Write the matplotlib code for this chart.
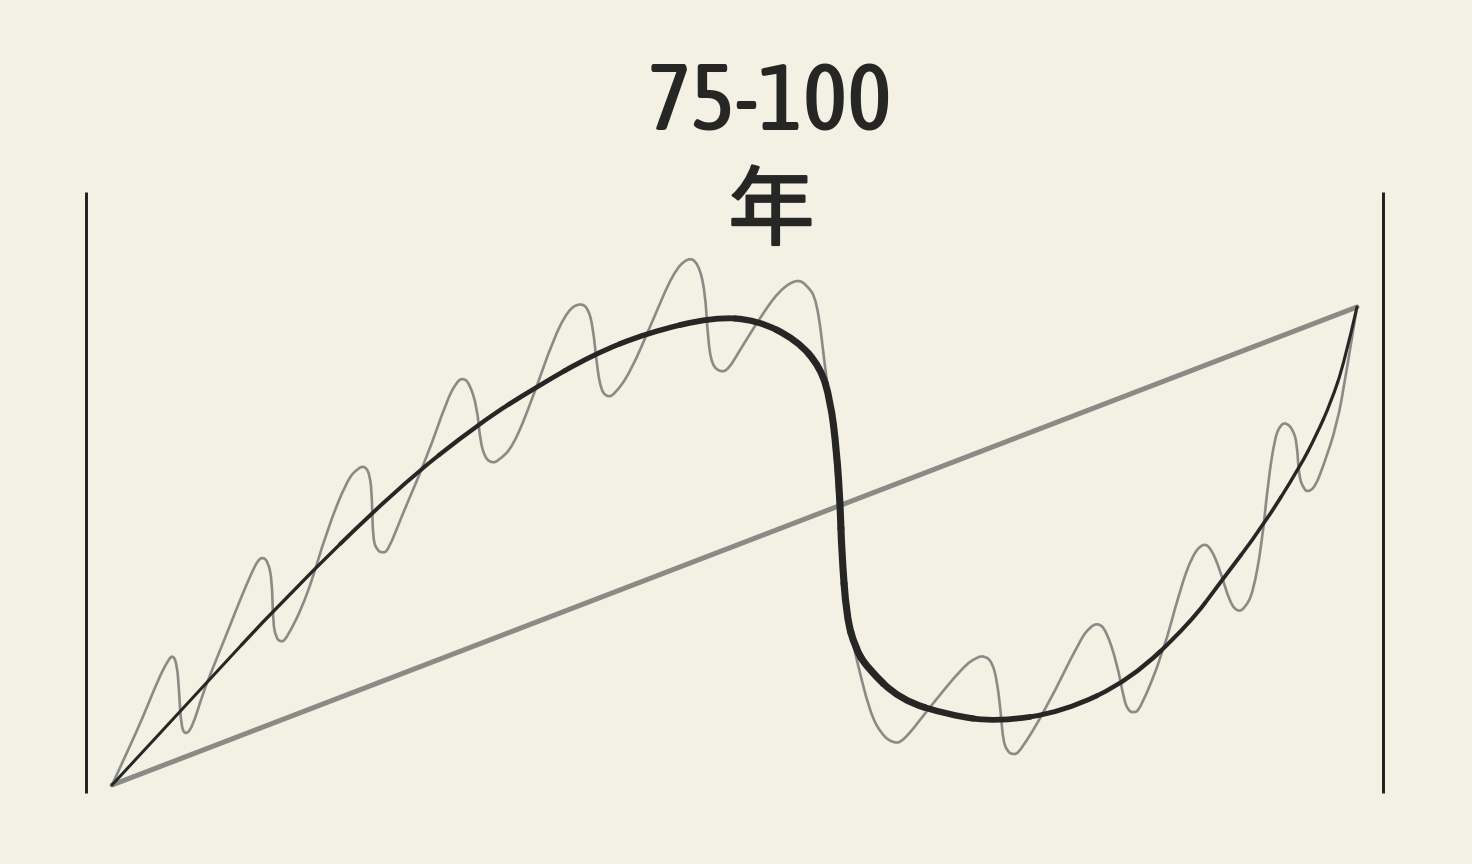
import numpy as np
import matplotlib
matplotlib.use("Agg")
import matplotlib.pyplot as plt
from matplotlib import font_manager, patheffects
from matplotlib.path import Path
from matplotlib.patches import PathPatch
from matplotlib.collections import PatchCollection

# x: years 0-100, y: relative level 0-100
black_x = [0, 7.07, 13.73, 22.9, 29.6, 34.1, 38.6, 43.0, 48.3, 51.8, 55.0,
           56.9, 57.7, 58.2, 58.5, 58.6, 59.0, 59.7, 60.6, 63.3, 67.3, 71.1,
           76.4, 81.8, 86.6, 89.0, 92.4, 95.4, 96.7, 97.9, 99.0, 100]
black_y = [0, 19.9, 38.7, 62.1, 75.9, 83.3, 90.0, 94.6, 97.9, 97.3, 93.1,
           87.4, 80.5, 70.1, 58.2, 49.2, 35.1, 28.7, 24.7, 17.8, 14.6, 13.2,
           15.3, 22.0, 33.9, 42.3, 54.0, 66.5, 73.0, 80.0, 88.5, 100]

wave_x = [0, 1.29, 2.49, 3.69, 4.50, 4.90, 5.22, 5.38, 5.54, 5.86, 6.43,
          7.31, 8.03, 9.24, 10.28, 11.24, 11.73, 12.13, 12.53, 12.85, 12.93,
          13.17, 13.49, 13.98, 15.66, 17.27, 18.88, 19.76, 20.32, 20.72,
          20.88, 20.96, 21.29, 21.69, 22.17, 23.37, 25.30, 26.91, 27.63,
          28.11, 28.67, 29.32, 29.56, 29.96, 30.52, 31.00, 32.21, 33.82,
          35.42, 36.63, 37.59, 38.23, 38.63, 38.96, 39.28, 39.76, 40.32,
          41.61, 43.45, 45.06, 46.27, 47.07, 47.63, 47.87, 48.19, 48.84,
          49.48, 50.44, 52.29, 53.65, 55.02, 55.82, 56.63, 57.27, 57.83,
          58.31, 58.71, 59.28, 59.68, 60.88, 61.85, 62.73, 63.53, 65.70,
          68.35, 69.48, 70.12, 70.68, 71.08, 71.41, 71.57, 71.89, 72.37,
          72.93, 75.10, 77.75, 78.55, 79.20, 79.84, 80.72, 81.29, 81.61,
          82.01, 82.57, 84.42, 85.78, 86.75, 87.63, 88.27, 89.00, 89.80,
          90.44, 91.00, 91.65, 92.37, 92.85, 93.41, 93.90, 94.38, 94.86,
          95.18, 95.34, 95.74, 96.06, 96.63, 97.27, 98.39, 99.10, 100]
wave_y = [0, 7.32, 14.23, 21.97, 26.15, 27.20, 25.10, 19.87, 12.55, 10.46,
          11.92, 19.25, 24.06, 31.80, 38.70, 44.56, 47.07, 47.70, 46.65,
          42.89, 33.89, 30.96, 29.92, 30.33, 39.33, 53.35, 63.81, 66.32,
          66.74, 64.85, 60.25, 51.26, 49.16, 48.54, 48.95, 56.90, 68.62,
          80.54, 84.10, 85.15, 84.31, 79.08, 72.18, 68.41, 67.36, 67.78,
          70.71, 81.17, 93.10, 99.37, 100.84, 99.79, 95.82, 87.45, 82.64,
          81.17, 81.59, 86.19, 97.28, 107.11, 110.46, 109.21, 103.56, 93.10,
          87.87, 86.40, 86.82, 91.00, 98.74, 103.56, 105.86, 104.60, 101.46,
          87.45, 76.36, 59.62, 42.89, 32.43, 27.62, 15.06, 10.46, 8.79, 9.00,
          16.32, 24.69, 26.78, 26.99, 25.73, 21.97, 14.64, 9.41, 7.11, 6.28,
          6.90, 16.32, 30.33, 33.05, 33.89, 32.43, 25.52, 17.78, 15.69,
          15.06, 15.69, 27.62, 40.79, 47.91, 50.63, 49.58, 44.98, 38.08,
          36.19, 37.03, 40.17, 50.63, 63.18, 72.80, 75.52, 75.73, 74.27,
          71.55, 64.44, 61.92, 61.30, 62.34, 66.53, 75.30, 85.50, 100]

line_x = [0, 100]
line_y = [0, 100]

frame_x = [-2.1, 102.1]
frame_y = [-1.7, 124.0]

title = "75-100"
unit = "年"

bg = "#f3f1e4"
ink = "#262725"
grey = "#8b8b86"


def pieces(xs, ys):
    # quadratic b-spline pieces: control = read point, ends = midpoints
    p = np.column_stack([xs, ys]).astype(float)
    m = (p[:-1] + p[1:]) / 2
    m[0], m[-1] = p[0], p[-1]
    return [(m[i - 1], p[i], m[i]) for i in range(1, len(p) - 1)]


def to_path(segs):
    verts = [segs[0][0]]
    codes = [Path.MOVETO]
    for a, b, c in segs:
        verts += [b, c]
        codes += [Path.CURVE3, Path.CURVE3]
    return Path(verts, codes)


# look for a narrow face for the number, narrowest first, medium weight
stretch_rank = {"extra-condensed": 0, "condensed": 1, "ultra-condensed": 2, "semi-condensed": 3}
narrow = [f for f in font_manager.fontManager.ttflist
          if f.stretch in stretch_rank and f.style == "normal"]


def weight_num(f):
    try:
        return int(f.weight)
    except (TypeError, ValueError):
        return 400


narrow.sort(key=lambda f: (stretch_rank[f.stretch], abs(weight_num(f) - 480)))
if narrow:
    num_font = dict(family=[narrow[0].name, "DejaVu Sans"], fontstretch=narrow[0].stretch,
                    fontweight=narrow[0].weight, fontsize=68)
else:
    num_font = dict(family=["DejaVu Sans"], fontsize=54)

fig = plt.figure(figsize=(14.72, 8.64), dpi=100)
fig.patch.set_facecolor(bg)
ax = fig.add_axes([0, 0, 1, 1])
ax.set_facecolor(bg)
ax.set_xlim(-9.0, 109.24)
ax.set_ylim(-16.53, 164.23)
ax.axis("off")

# frame bars
for fx in frame_x:
    ax.plot([fx, fx], frame_y, color="#1f1f1e", lw=2.1, solid_capstyle="butt", zorder=1)

# straight trend
ax.plot(line_x, line_y, color=grey, lw=3.6, solid_capstyle="round", zorder=2)

# wavy line
ax.add_patch(PathPatch(to_path(pieces(wave_x, wave_y)), facecolor="none",
                       edgecolor=grey, lw=1.9, capstyle="round", zorder=3))

# black curve, thicker in the middle
segs = pieces(black_x, black_y)
width_at_x = [0, 15, 30, 48, 57, 60, 67, 76, 90, 100]
width_px = [2.6, 3.4, 4.4, 5.8, 7.0, 7.2, 6.4, 5.0, 3.8, 3.0]
lws = np.interp([s[1][0] for s in segs], width_at_x, width_px) / 1.389
pc = PatchCollection([PathPatch(to_path([s])) for s in segs], facecolor="none",
                     edgecolor=ink, linewidths=lws, capstyle="round", zorder=4)
ax.add_collection(pc)

fig.text(0.523, 0.8495, title, ha="center", va="baseline", color=ink, **num_font)
fig.text(0.524, 0.7525, unit, ha="center", va="center", fontsize=62,
         color=ink, family=["Noto Sans CJK SC", "DejaVu Sans"],
         path_effects=[patheffects.withStroke(linewidth=1.6, foreground=ink)])

fig.savefig("out.png", dpi=100, facecolor=bg)
